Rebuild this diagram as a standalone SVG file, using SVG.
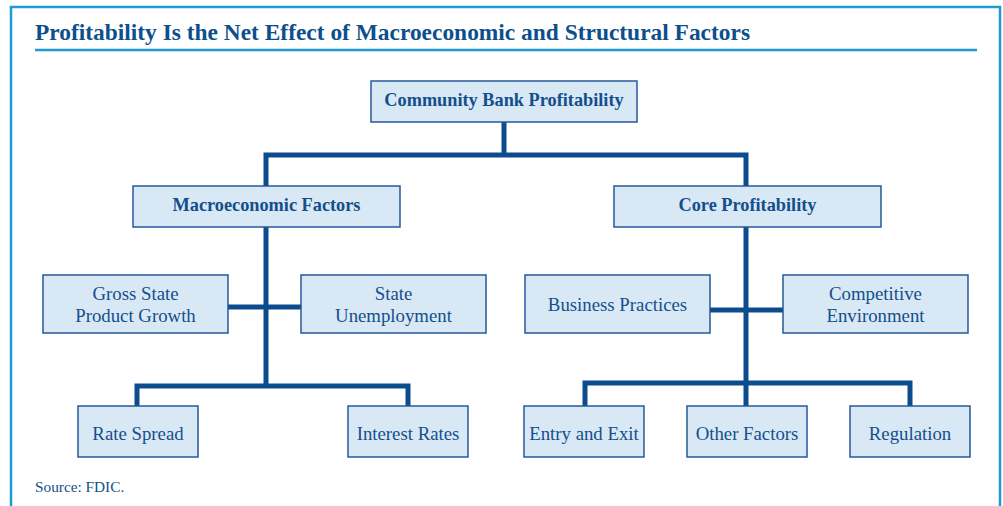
<svg xmlns="http://www.w3.org/2000/svg" width="1003" height="506" viewBox="0 0 1003 506">
<style>
.box{fill:#d9e8f5;stroke:#24599a;stroke-width:1.5}
.t{font-family:"Liberation Serif","Times New Roman",serif;font-size:18.8px;fill:#134f8c;text-anchor:middle}
.b{font-weight:bold;font-size:18.3px}
.con{fill:none;stroke:#0b4c8e;stroke-width:5;stroke-linejoin:miter;stroke-linecap:butt}
</style>
<rect x="0" y="0" width="1003" height="506" fill="#ffffff"/>
<rect x="11" y="7" width="989" height="520" fill="#ffffff" stroke="#1e9ad6" stroke-width="2.5"/>
<text x="35" y="40" font-family="'Liberation Serif','Times New Roman',serif" font-weight="bold" font-size="23" fill="#0d4f8d" textLength="715" lengthAdjust="spacingAndGlyphs">Profitability Is the Net Effect of Macroeconomic and Structural Factors</text>
<line x1="35" y1="50" x2="977" y2="50" stroke="#1e9ad6" stroke-width="2.5"/>
<g id="connectors">
<path class="con" d="M504,122 V155 M266,186 V155 H746 V186"/>
<path class="con" d="M266,227 V386 M228,307 H301 M137,406 V386 H408 V406"/>
<path class="con" d="M746,227 V406 M710,310 H783 M585,406 V383 H910 V406"/>
</g>
<g id="n-community"><rect class="box" x="371" y="81" width="266" height="41"/><text class="t b" x="504" y="106">Community Bank Profitability</text></g>
<g id="n-macro"><rect class="box" x="133" y="186" width="267" height="41"/><text class="t b" x="266.5" y="211">Macroeconomic Factors</text></g>
<g id="n-core"><rect class="box" x="614" y="186" width="267" height="41"/><text class="t b" x="747.5" y="211">Core Profitability</text></g>
<g id="n-gsp"><rect class="box" x="43" y="275" width="185" height="58"/><text class="t" x="135.5" y="300">Gross State</text><text class="t" x="135.5" y="322">Product Growth</text></g>
<g id="n-unemp"><rect class="box" x="301" y="275" width="185" height="58"/><text class="t" x="393.5" y="300">State</text><text class="t" x="393.5" y="322">Unemployment</text></g>
<g id="n-business"><rect class="box" x="525" y="275" width="185" height="58"/><text class="t" x="617.5" y="311">Business Practices</text></g>
<g id="n-competitive"><rect class="box" x="783" y="275" width="185" height="58"/><text class="t" x="875.5" y="300">Competitive</text><text class="t" x="875.5" y="322">Environment</text></g>
<g id="n-rate"><rect class="box" x="78" y="406" width="120" height="51"/><text class="t" x="138" y="440">Rate Spread</text></g>
<g id="n-interest"><rect class="box" x="348" y="406" width="120" height="51"/><text class="t" x="408" y="440">Interest Rates</text></g>
<g id="n-entry"><rect class="box" x="524" y="406" width="120" height="51"/><text class="t" x="584" y="440">Entry and Exit</text></g>
<g id="n-other"><rect class="box" x="687" y="406" width="120" height="51"/><text class="t" x="747" y="440">Other Factors</text></g>
<g id="n-regulation"><rect class="box" x="850" y="406" width="120" height="51"/><text class="t" x="910" y="440">Regulation</text></g>
<text x="35" y="492" font-family="'Liberation Serif','Times New Roman',serif" font-size="15.3" fill="#134f8c">Source: FDIC.</text>
</svg>
